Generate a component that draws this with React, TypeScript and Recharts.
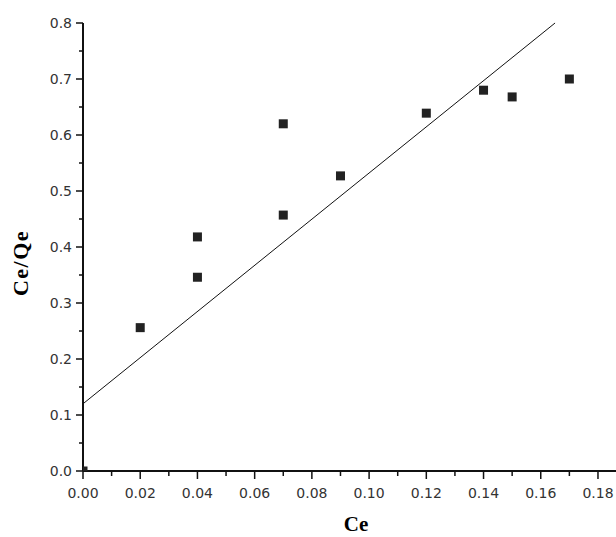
import React from 'react';
import { ScatterChart, Scatter, XAxis, YAxis, ReferenceLine } from 'recharts';

// Measured equilibrium data: Ce and Ce/Qe
const ceValues = [0, 0.02, 0.04, 0.04, 0.07, 0.07, 0.09, 0.12, 0.14, 0.15, 0.17];
const ceQeValues = [0, 0.256, 0.346, 0.418, 0.457, 0.62, 0.527, 0.639, 0.68, 0.668, 0.7];

// Linear fit endpoints (Ce, Ce/Qe)
const fitCe = [0, 0.165];
const fitCeQe = [0.12, 0.8];

// Axis ticks
const xMajorTicks = [0, 0.02, 0.04, 0.06, 0.08, 0.1, 0.12, 0.14, 0.16, 0.18];
const xMinorTicks = [0.01, 0.03, 0.05, 0.07, 0.09, 0.11, 0.13, 0.15, 0.17];
const yMajorTicks = [0, 0.1, 0.2, 0.3, 0.4, 0.5, 0.6, 0.7, 0.8];
const yMinorTicks = [0.05, 0.15, 0.25, 0.35, 0.45, 0.55, 0.65, 0.75];

const X_DOMAIN: [number, number] = [0, 0.1863];
const Y_DOMAIN: [number, number] = [0, 0.8];

const points = ceValues.map((x, i) => ({ x, y: ceQeValues[i] }));
const fitSegment = [
  { x: fitCe[0], y: fitCeQe[0] },
  { x: fitCe[1], y: fitCeQe[1] },
];

const isMajor = (list: number[], v: number) => list.some((t) => Math.abs(t - v) < 1e-9);
const byValue = (a: number, b: number) => a - b;

const AXIS_COLOR = '#111';
const TICK_FONT = '"DejaVu Sans", sans-serif';
const TITLE_FONT = '"Liberation Serif", "Times New Roman", serif';

const XTick = (props: any) => {
  const { x, y, payload } = props;
  const v = payload.value as number;
  const major = isMajor(xMajorTicks, v);
  return (
    <g>
      <line x1={x} y1={y} x2={x} y2={y + (major ? 8 : 5)} stroke={AXIS_COLOR} strokeWidth={1.5} />
      {major && (
        <text x={x} y={y + 27} textAnchor="middle" fontFamily={TICK_FONT} fontSize={14} fill="#333">
          {v.toFixed(2)}
        </text>
      )}
    </g>
  );
};

const YTick = (props: any) => {
  const { x, y, payload } = props;
  const v = payload.value as number;
  const major = isMajor(yMajorTicks, v);
  return (
    <g>
      <line x1={x - (major ? 7 : 4)} y1={y} x2={x} y2={y} stroke={AXIS_COLOR} strokeWidth={1.5} />
      {major && (
        <text x={x - 11} y={y + 5} textAnchor="end" fontFamily={TICK_FONT} fontSize={14} fill="#333">
          {v.toFixed(1)}
        </text>
      )}
    </g>
  );
};

// Square marker; points sitting on an axis are cut at the plot edge
const SquareMarker = (props: any) => {
  const { cx, cy, payload } = props;
  const s = 9;
  let left = cx - s / 2;
  let w = s;
  let h = s;
  if (payload && payload.x <= X_DOMAIN[0]) {
    left = cx;
    w = s / 2;
  }
  if (payload && payload.y <= Y_DOMAIN[0]) {
    h = s / 2;
  }
  return <rect x={left} y={cy - s / 2} width={w} height={h} fill="#222" />;
};

const XTitle = () => (
  <text x={356} y={531} textAnchor="middle" fontFamily={TITLE_FONT} fontWeight="bold" fontSize={21} fill="#000">
    Ce
  </text>
);

const YTitle = () => (
  <text
    x={28}
    y={263}
    textAnchor="middle"
    transform="rotate(-90 28 263)"
    fontFamily={TITLE_FONT}
    fontWeight="bold"
    fontSize={22}
    letterSpacing={1.5}
    fill="#000"
  >
    Ce/Qe
  </text>
);

export default function App() {
  return (
    <div style={{ position: 'absolute', left: 0, top: 0, width: 616, height: 537, background: '#fff', overflow: 'hidden' }}>
      <ScatterChart width={616} height={537} margin={{ top: 23, right: 0, bottom: 0, left: 0 }}>
        <XAxis
          type="number"
          dataKey="x"
          domain={X_DOMAIN}
          ticks={[...xMajorTicks, ...xMinorTicks].sort(byValue)}
          interval={0}
          height={66}
          tickSize={0}
          tickMargin={0}
          tickLine={false}
          tick={XTick}
          axisLine={{ stroke: AXIS_COLOR, strokeWidth: 2 }}
          allowDataOverflow
          label={XTitle}
        />
        <YAxis
          type="number"
          dataKey="y"
          domain={Y_DOMAIN}
          ticks={[...yMajorTicks, ...yMinorTicks].sort(byValue)}
          interval={0}
          width={83}
          tickSize={0}
          tickMargin={0}
          tickLine={false}
          tick={YTick}
          axisLine={{ stroke: AXIS_COLOR, strokeWidth: 2 }}
          allowDataOverflow
          label={YTitle}
        />
        <ReferenceLine segment={fitSegment} stroke="#111" strokeWidth={1} />
        <Scatter data={points} shape={SquareMarker} isAnimationActive={false} />
      </ScatterChart>
    </div>
  );
}
